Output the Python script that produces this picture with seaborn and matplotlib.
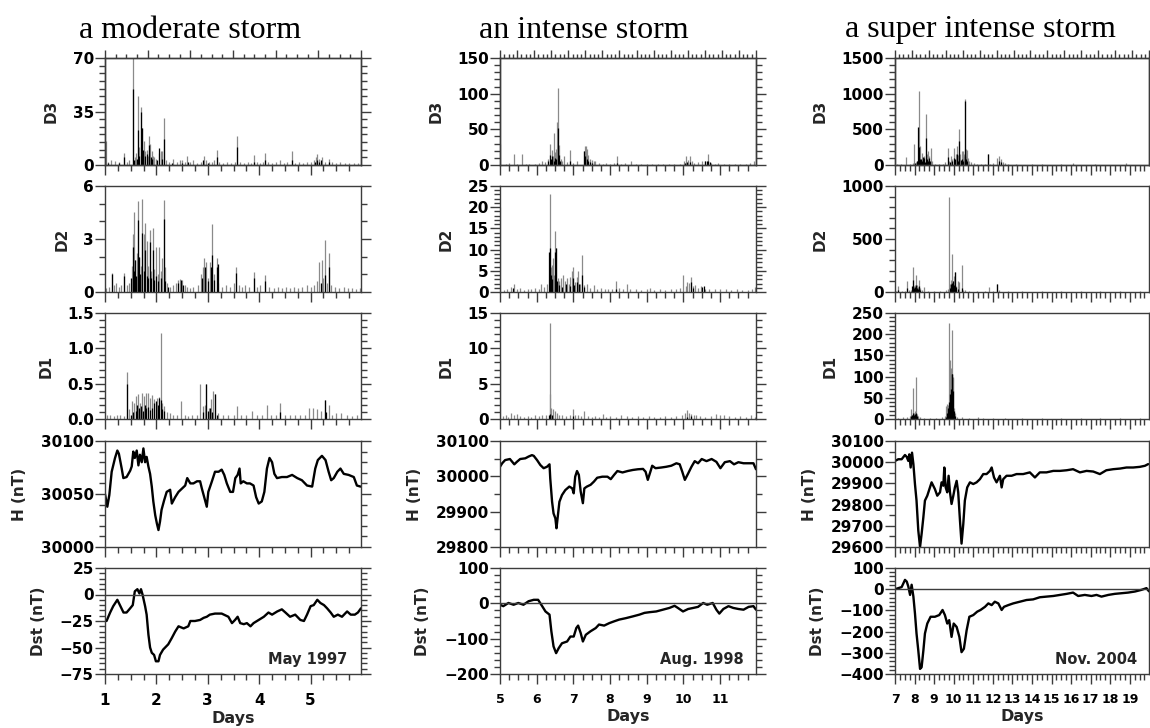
import matplotlib
matplotlib.use("Agg")
import matplotlib.pyplot as plt
from matplotlib.ticker import MultipleLocator
import seaborn as sns

# ---- data (day, value) ----
titles = ["a moderate storm", "an intense storm", "a super intense storm"]
dates = ["May 1997", "Aug. 1998", "Nov. 2004"]
row_labels = ["D3", "D2", "D1", "H (nT)", "Dst (nT)"]

# moderate storm, May 1997
mod_d3_grey = [(1.01,16),(1.06,2),(1.12,3),(1.2,2.5),(1.28,2),(1.36,8),(1.42,2),(1.47,3),(1.55,70),(1.58,5),(1.61,8),(1.64,45),(1.67,12),(1.70,38),(1.72,24),(1.75,16),(1.78,9),(1.81,10),(1.83,6),(1.86,19),(1.88,14),(1.91,9),(1.94,6),(1.96,5),(2.0,4),(2.06,8),(2.09,9),(2.11,9),(2.14,31),(2.18,3),(2.24,2),(2.33,4),(2.4,2),(2.45,3),(2.49,3),(2.55,2),(2.59,6),(2.65,2),(2.72,3),(2.78,1.5),(2.86,2),(2.92,6),(2.96,3),(3.02,2),(3.08,2),(3.12,3),(3.17,10),(3.22,2),(3.3,1.5),(3.38,2),(3.45,1.5),(3.52,2),(3.57,19),(3.62,2),(3.7,1.5),(3.78,2),(3.84,1.5),(3.89,6.5),(3.95,2),(4.02,1.5),(4.08,2),(4.12,8),(4.18,2),(4.25,1.5),(4.33,2),(4.41,3),(4.48,1.5),(4.55,2),(4.64,9),(4.7,1.5),(4.78,2),(4.85,1.5),(4.93,2),(5.0,2),(5.06,3),(5.1,5),(5.13,7),(5.17,4),(5.22,5),(5.28,2),(5.35,4),(5.42,2),(5.5,1.5),(5.58,2),(5.66,1.5),(5.75,1.5),(5.84,1),(5.92,1)]
mod_d3_black = [(1.06,1),(1.28,1),(1.36,5),(1.54,50),(1.57,3),(1.62,4),(1.64,23),(1.66,6),(1.70,35),(1.72,24),(1.74,10),(1.77,6),(1.81,7),(1.86,13),(1.89,5),(1.92,4),(2.02,3),(2.06,11),(2.1,4),(2.14,17),(2.3,1.5),(2.5,1.5),(2.62,2),(2.9,3),(3.0,1),(3.17,5),(3.57,12),(3.9,2),(4.12,3),(4.64,3),(5.08,2),(5.13,3),(5.16,2),(5.2,3),(5.35,2)]
mod_d2_grey = [(1.02,0.2),(1.08,0.3),(1.13,1.05),(1.18,0.4),(1.22,0.5),(1.27,0.3),(1.32,0.4),(1.37,1.1),(1.42,0.4),(1.47,0.5),(1.52,1.5),(1.54,3.3),(1.56,4.55),(1.59,1.8),(1.62,2.2),(1.64,5.15),(1.67,2.0),(1.70,1.5),(1.72,5.24),(1.75,3.3),(1.78,3.9),(1.81,2.9),(1.84,1.5),(1.87,3.5),(1.90,1.2),(1.93,3.65),(1.96,1.3),(2.0,2.55),(2.03,1.0),(2.06,2.55),(2.09,1.2),(2.11,1.9),(2.14,5.2),(2.17,1.4),(2.2,0.5),(2.26,0.3),(2.32,0.4),(2.38,0.5),(2.42,0.66),(2.46,0.75),(2.5,0.7),(2.55,0.4),(2.6,0.3),(2.66,0.2),(2.72,0.3),(2.8,0.4),(2.86,1.0),(2.9,1.4),(2.93,1.9),(2.97,1.7),(3.0,0.8),(3.05,1.7),(3.09,3.84),(3.13,1.0),(3.17,1.9),(3.2,0.5),(3.28,0.3),(3.36,0.4),(3.44,0.3),(3.5,0.5),(3.55,1.4),(3.6,0.4),(3.66,0.3),(3.72,0.4),(3.8,0.3),(3.89,1.14),(3.95,0.3),(4.02,0.4),(4.12,0.95),(4.2,0.3),(4.28,0.2),(4.36,0.3),(4.44,0.2),(4.52,0.3),(4.6,0.2),(4.68,0.3),(4.76,0.2),(4.84,0.3),(4.92,0.4),(5.0,0.3),(5.06,0.4),(5.12,0.6),(5.16,1.7),(5.22,1.8),(5.25,0.8),(5.27,2.93),(5.31,0.5),(5.35,2.18),(5.4,0.4),(5.48,0.3),(5.56,0.2),(5.64,0.3),(5.72,0.2),(5.8,0.2),(5.88,0.15),(5.96,0.2)]
mod_d2_black = [(1.13,1.0),(1.37,0.9),(1.5,0.8),(1.54,2.55),(1.56,1.2),(1.58,1.8),(1.6,0.9),(1.64,4.07),(1.66,2.0),(1.69,1.0),(1.72,3.35),(1.75,1.2),(1.78,2.37),(1.81,0.9),(1.84,0.8),(1.87,2.84),(1.9,0.8),(1.93,2.37),(1.96,0.7),(2.0,0.9),(2.04,0.6),(2.08,0.8),(2.14,4.16),(2.17,0.6),(2.22,0.3),(2.42,0.5),(2.48,0.7),(2.52,0.4),(2.88,0.8),(2.95,1.4),(3.0,0.6),(3.06,1.4),(3.09,2.08),(3.12,0.7),(3.17,1.4),(3.19,1.6),(3.55,1.1),(3.89,0.8),(4.12,0.6),(5.2,0.5),(5.27,0.95),(5.35,1.42)]
mod_d1_grey = [(1.04,0.06),(1.1,0.05),(1.18,0.04),(1.24,0.05),(1.3,0.06),(1.36,0.04),(1.43,0.67),(1.47,0.14),(1.52,0.25),(1.56,0.22),(1.6,0.33),(1.64,0.36),(1.68,0.23),(1.72,0.37),(1.75,0.32),(1.79,0.37),(1.83,0.37),(1.87,0.3),(1.91,0.34),(1.95,0.28),(2.01,0.3),(2.05,0.31),(2.08,1.22),(2.11,0.23),(2.15,0.18),(2.2,0.1),(2.26,0.08),(2.32,0.06),(2.4,0.05),(2.48,0.26),(2.55,0.05),(2.62,0.04),(2.7,0.05),(2.78,0.06),(2.85,0.5),(2.9,0.18),(2.94,0.2),(2.97,0.5),(3.02,0.16),(3.06,0.28),(3.11,0.39),(3.14,0.36),(3.2,0.08),(3.3,0.05),(3.4,0.06),(3.5,0.05),(3.57,0.18),(3.65,0.05),(3.75,0.06),(3.85,0.11),(3.95,0.05),(4.05,0.06),(4.15,0.2),(4.22,0.05),(4.32,0.06),(4.41,0.23),(4.5,0.05),(4.6,0.06),(4.7,0.05),(4.8,0.06),(4.9,0.05),(4.97,0.16),(5.05,0.16),(5.12,0.14),(5.2,0.12),(5.27,0.27),(5.35,0.2),(5.42,0.06),(5.5,0.08),(5.6,0.09),(5.7,0.05),(5.8,0.04),(5.9,0.05)]
mod_d1_black = [(1.43,0.49),(1.5,0.06),(1.55,0.1),(1.6,0.12),(1.63,0.2),(1.66,0.15),(1.7,0.18),(1.73,0.12),(1.77,0.2),(1.8,0.15),(1.84,0.17),(1.88,0.13),(1.92,0.16),(1.96,0.22),(2.0,0.25),(2.03,0.2),(2.06,0.3),(2.08,0.27),(2.1,0.14),(2.14,0.12),(2.9,0.1),(2.97,0.5),(3.0,0.12),(3.04,0.15),(3.08,0.1),(3.14,0.36),(3.18,0.06),(4.41,0.1),(5.27,0.27),(5.3,0.1)]
mod_h = [(1.0,30050),(1.045,30038),(1.084,30049),(1.13,30071),(1.195,30084),(1.24,30091),(1.27,30088),(1.325,30074),(1.357,30065),(1.42,30066),(1.49,30072),(1.52,30076),(1.55,30090),(1.58,30084),(1.617,30091),(1.65,30077),(1.68,30087),(1.715,30080),(1.747,30093),(1.78,30080),(1.81,30085),(1.844,30076),(1.877,30069),(1.91,30057),(1.94,30043),(1.977,30030),(2.01,30022),(2.04,30016),(2.07,30024),(2.1,30035),(2.15,30044),(2.2,30052),(2.267,30054),(2.3,30041),(2.365,30047),(2.43,30052),(2.495,30055),(2.56,30058),(2.6,30065),(2.66,30060),(2.72,30060),(2.79,30062),(2.85,30062),(2.885,30055),(2.93,30047),(2.98,30038),(3.01,30052),(3.08,30062),(3.14,30071),(3.21,30071),(3.27,30073),(3.32,30068),(3.37,30060),(3.436,30052),(3.49,30052),(3.535,30065),(3.58,30068),(3.617,30074),(3.64,30060),(3.69,30062),(3.76,30060),(3.82,30060),(3.89,30058),(3.94,30047),(3.99,30041),(4.05,30043),(4.1,30052),(4.15,30074),(4.2,30084),(4.25,30080),(4.295,30069),(4.346,30065),(4.44,30066),(4.54,30066),(4.64,30068),(4.74,30065),(4.83,30063),(4.93,30058),(5.03,30057),(5.09,30074),(5.14,30082),(5.22,30086),(5.29,30082),(5.35,30071),(5.4,30063),(5.45,30065),(5.52,30071),(5.58,30074),(5.645,30069),(5.74,30068),(5.84,30066),(5.9,30058),(5.97,30057)]
mod_dst = [(1.03,-25),(1.1,-17),(1.16,-11),(1.24,-5),(1.29,-10),(1.36,-17),(1.42,-17),(1.49,-13),(1.54,-10),(1.58,3),(1.63,5),(1.67,1),(1.7,5),(1.73,0),(1.78,-11),(1.81,-19),(1.845,-38),(1.877,-50),(1.91,-55),(1.955,-57),(1.99,-63),(2.04,-63),(2.07,-57),(2.13,-52),(2.23,-47),(2.3,-41),(2.365,-35),(2.43,-30),(2.53,-32),(2.62,-30),(2.66,-25),(2.75,-25),(2.85,-24),(2.92,-22),(2.98,-21),(3.04,-19),(3.14,-18),(3.27,-18),(3.4,-21),(3.47,-27),(3.53,-24),(3.58,-21),(3.63,-27),(3.7,-28),(3.76,-27),(3.83,-30),(3.89,-27),(3.99,-24),(4.09,-21),(4.18,-17),(4.25,-19),(4.35,-16),(4.44,-14),(4.51,-17),(4.6,-21),(4.7,-19),(4.8,-24),(4.87,-25),(4.93,-19),(5.0,-11),(5.06,-10),(5.13,-5),(5.19,-8),(5.26,-10),(5.32,-13),(5.39,-17),(5.45,-21),(5.53,-19),(5.61,-21),(5.71,-16),(5.78,-19),(5.86,-19),(5.92,-17),(5.98,-13)]

# intense storm, Aug. 1998
int_d3_grey = [(5.01,30),(5.15,2),(5.25,3),(5.37,15),(5.45,2),(5.6,16),(5.7,2),(5.8,1.5),(5.95,2),(6.05,3),(6.14,5.6),(6.22,4),(6.3,8),(6.37,30),(6.41,21),(6.44,12),(6.46,45),(6.5,18),(6.53,23),(6.56,60),(6.59,108),(6.62,28),(6.65,9),(6.7,5),(6.75,12),(6.82,4),(6.92,21),(7.0,3),(7.1,5),(7.28,20),(7.32,27),(7.35,26),(7.38,23),(7.41,14),(7.45,9),(7.5,7),(7.55,5),(7.6,5.6),(7.7,3),(7.8,2),(7.9,3),(8.0,2),(8.1,3),(8.2,12),(8.3,2),(8.42,2.5),(8.56,5.6),(8.7,2),(8.85,1.5),(9.0,2),(9.15,1.5),(9.3,2),(9.45,1.5),(9.6,2),(9.75,1.5),(9.9,2),(10.02,6),(10.08,12),(10.13,7),(10.18,13),(10.23,5),(10.3,3),(10.4,4),(10.5,5),(10.6,6),(10.68,16),(10.75,3),(10.85,2),(10.95,3),(11.1,2),(11.25,2),(11.4,1.5),(11.55,2),(11.7,1.5),(11.82,3),(11.92,5)]
int_d3_black = [(6.3,5),(6.37,14),(6.4,9),(6.43,12),(6.46,6),(6.5,10),(6.53,8),(6.58,52),(6.61,14),(6.64,5),(6.92,5),(7.3,19),(7.33,12),(7.36,8),(7.4,6),(7.45,4),(7.5,3),(8.2,3),(10.05,3),(10.1,4),(10.18,4),(10.6,5),(10.64,5),(10.68,5),(10.72,4)]
int_d2_grey = [(5.01,20),(5.1,0.5),(5.2,0.8),(5.3,1.2),(5.37,2),(5.45,0.8),(5.55,1),(5.65,0.5),(5.75,0.7),(5.85,0.6),(5.95,1),(6.05,0.8),(6.12,2),(6.2,1.2),(6.28,2),(6.35,23),(6.38,6),(6.41,6.3),(6.44,8),(6.47,4),(6.5,14.3),(6.53,10.3),(6.57,3.2),(6.62,2.5),(6.66,3.2),(6.72,4),(6.78,2.5),(6.83,3.2),(6.88,2),(6.92,3.6),(6.96,5),(7.0,6),(7.05,2.4),(7.1,3.6),(7.14,5),(7.18,2),(7.24,8.7),(7.3,1.6),(7.38,2),(7.45,1),(7.55,1.6),(7.65,0.8),(7.75,1),(7.85,0.6),(7.95,0.8),(8.05,0.7),(8.16,2.5),(8.25,1),(8.35,0.8),(8.45,2),(8.55,0.6),(8.7,0.8),(8.85,0.5),(9.0,0.6),(9.1,1),(9.2,0.5),(9.35,0.6),(9.5,0.5),(9.65,0.8),(9.8,0.6),(9.9,1),(10.0,4),(10.06,1.5),(10.11,2.4),(10.16,2.2),(10.2,3.6),(10.25,1.4),(10.32,1.7),(10.4,1),(10.48,1.4),(10.58,0.8),(10.7,0.6),(10.85,0.6),(11.0,0.8),(11.15,0.8),(11.3,0.5),(11.45,0.6),(11.6,0.5),(11.75,0.4),(11.88,0.8),(11.96,1.2)]
int_d2_black = [(5.35,1),(6.33,9.5),(6.35,10.3),(6.38,4),(6.42,3),(6.5,9.5),(6.52,10.3),(6.55,2.5),(6.6,1.6),(6.7,1.2),(6.8,2),(6.9,1.5),(6.98,3.2),(7.02,1.6),(7.1,2.4),(7.16,2),(7.24,4),(7.28,1.2),(8.16,0.8),(10.2,2.4),(10.25,1),(10.5,1.2),(10.55,1.4)]
int_d1_grey = [(5.01,8.3),(5.08,0.4),(5.15,0.5),(5.22,0.3),(5.3,0.8),(5.38,0.5),(5.45,0.7),(5.55,0.4),(5.65,0.3),(5.75,0.4),(5.85,0.3),(5.95,0.5),(6.05,0.4),(6.15,0.5),(6.25,0.6),(6.35,13.6),(6.37,3.5),(6.4,1.6),(6.45,1.4),(6.5,1.1),(6.55,0.8),(6.62,0.6),(6.7,0.5),(6.8,0.4),(6.9,0.6),(6.98,1.4),(7.05,0.5),(7.12,0.6),(7.2,0.4),(7.3,1.1),(7.4,0.4),(7.5,0.3),(7.6,0.4),(7.7,0.3),(7.8,0.7),(7.9,0.3),(8.0,0.4),(8.15,0.3),(8.3,0.6),(8.45,0.4),(8.6,0.3),(8.75,0.4),(8.9,0.3),(9.05,0.4),(9.2,0.3),(9.35,0.3),(9.5,0.4),(9.65,0.3),(9.8,0.4),(9.95,0.5),(10.05,0.8),(10.1,1.3),(10.15,0.8),(10.2,0.7),(10.28,0.6),(10.35,0.5),(10.45,0.4),(10.6,0.3),(10.75,0.4),(10.9,0.7),(11.0,0.5),(11.1,0.6),(11.25,0.4),(11.4,0.3),(11.55,0.4),(11.7,0.3),(11.85,0.5),(11.95,0.3)]
int_d1_black = [(6.33,0.6),(6.37,0.7),(6.42,0.5),(6.98,0.4),(10.1,0.3),(10.2,0.4)]
int_h = [(5.0,30027),(5.06,30037),(5.14,30046),(5.27,30049),(5.39,30034),(5.46,30041),(5.55,30049),(5.69,30051),(5.78,30056),(5.87,30060),(5.92,30058),(6.01,30046),(6.1,30032),(6.19,30023),(6.28,30027),(6.35,30034),(6.37,29994),(6.42,29928),(6.46,29895),(6.51,29881),(6.54,29853),(6.575,29886),(6.62,29928),(6.69,29947),(6.78,29961),(6.89,29971),(6.97,29966),(7.01,29952),(7.05,29999),(7.1,30015),(7.15,30004),(7.2,29957),(7.26,29924),(7.3,29966),(7.37,29971),(7.47,29976),(7.56,29985),(7.65,29996),(7.79,29999),(7.93,29999),(8.02,29992),(8.11,30004),(8.2,30015),(8.34,30011),(8.48,30015),(8.62,30018),(8.76,30020),(8.9,30021),(8.97,30013),(9.03,29990),(9.1,30013),(9.15,30030),(9.24,30023),(9.4,30025),(9.53,30027),(9.67,30030),(9.81,30037),(9.9,30034),(9.97,30013),(10.04,29990),(10.13,30008),(10.22,30027),(10.31,30043),(10.4,30037),(10.5,30049),(10.63,30043),(10.77,30049),(10.9,30041),(11.01,30023),(11.13,30040),(11.27,30043),(11.38,30034),(11.5,30040),(11.64,30037),(11.78,30037),(11.91,30037),(11.98,30020)]
int_dst = [(5.0,-4),(5.09,-8),(5.23,1),(5.37,-4),(5.5,1),(5.64,-4),(5.78,6),(5.92,10),(6.04,10),(6.15,-8),(6.24,-23),(6.35,-32),(6.4,-79),(6.46,-122),(6.53,-141),(6.6,-127),(6.69,-113),(6.83,-108),(6.92,-94),(7.01,-94),(7.08,-70),(7.13,-63),(7.2,-84),(7.26,-108),(7.34,-89),(7.47,-79),(7.61,-70),(7.7,-60),(7.84,-63),(7.98,-56),(8.11,-51),(8.25,-46),(8.43,-42),(8.62,-37),(8.8,-32),(8.94,-27),(9.08,-25),(9.26,-23),(9.44,-18),(9.62,-13),(9.76,-7),(9.85,-13),(9.99,-23),(10.13,-16),(10.27,-13),(10.4,-10),(10.54,1),(10.65,-4),(10.8,1),(10.9,-18),(10.98,-29),(11.09,-16),(11.23,-8),(11.36,-13),(11.5,-16),(11.64,-18),(11.78,-10),(11.91,-8),(11.98,-18)]

# super intense storm, Nov. 2004
sup_d3_grey = [(7.1,20),(7.3,15),(7.56,113),(7.75,15),(7.9,30),(7.97,300),(8.05,40),(8.12,60),(8.22,1034),(8.26,268),(8.3,103),(8.36,174),(8.42,100),(8.48,130),(8.58,715),(8.63,150),(8.7,197),(8.76,120),(8.82,235),(8.9,56),(9.05,15),(9.25,12),(9.45,20),(9.55,40),(9.72,235),(9.78,56),(9.85,130),(9.92,90),(10.03,235),(10.1,150),(10.15,268),(10.22,140),(10.29,503),(10.34,150),(10.4,197),(10.47,190),(10.52,150),(10.575,926),(10.62,220),(10.67,207),(10.72,103),(10.8,60),(10.9,40),(11.05,25),(11.2,20),(11.4,15),(11.6,20),(11.77,160),(11.85,20),(12.0,30),(12.22,94),(12.33,127),(12.4,80),(12.5,40),(12.6,23),(12.8,10),(13.2,8),(13.98,15),(14.5,8),(15.0,6),(15.5,8),(16.1,33),(16.6,5),(17.2,8),(17.8,6),(18.4,5),(18.83,28),(19.4,6),(19.8,5)]
sup_d3_black = [(8.0,30),(8.1,60),(8.2,527),(8.25,250),(8.3,80),(8.35,90),(8.4,60),(8.45,110),(8.5,100),(8.55,40),(8.58,385),(8.62,80),(8.68,60),(8.74,100),(8.8,50),(9.72,113),(9.8,40),(9.9,60),(10.0,100),(10.05,80),(10.15,150),(10.2,60),(10.29,338),(10.35,70),(10.4,80),(10.5,60),(10.575,893),(10.6,120),(10.65,90),(10.7,60),(11.77,160),(12.33,60),(12.4,40)]
sup_d2_grey = [(7.05,10),(7.17,54),(7.35,8),(7.5,12),(7.6,107),(7.7,15),(7.8,20),(7.9,233),(7.95,60),(8.0,70),(8.07,158),(8.12,70),(8.18,50),(8.24,117),(8.3,38),(8.4,20),(8.5,44),(8.7,8),(9.0,6),(9.3,10),(9.6,16),(9.7,30),(9.77,900),(9.82,76),(9.87,110),(9.91,360),(9.96,101),(10.02,150),(10.06,190),(10.12,60),(10.2,107),(10.25,90),(10.4,258),(10.45,22),(10.6,15),(10.8,8),(11.2,6),(11.6,10),(11.8,44),(12.0,10),(12.19,76),(12.3,20),(12.8,6),(13.5,5),(14.5,6),(15.5,5),(16.5,6),(17.5,5),(18.5,6),(19.5,5)]
sup_d2_black = [(7.17,20),(7.6,40),(7.88,60),(7.9,117),(7.95,40),(8.0,50),(8.07,70),(8.12,40),(8.2,30),(8.24,60),(8.3,20),(9.8,40),(9.85,80),(9.9,85),(9.95,100),(10.0,70),(10.06,190),(10.1,50),(10.2,30),(10.4,40),(12.19,76)]
sup_d1_grey = [(7.01,27),(7.15,3),(7.4,4),(7.6,5),(7.75,8),(7.8,24),(7.85,10),(7.9,74),(7.95,15),(8.0,18),(8.07,98),(8.12,12),(8.2,8),(8.3,5),(8.5,3),(8.8,2),(9.1,3),(9.4,5),(9.55,8),(9.6,30),(9.64,35),(9.7,33),(9.77,226),(9.8,140),(9.84,120),(9.88,80),(9.91,211),(9.94,100),(9.96,96),(10.0,25),(10.05,15),(10.15,5.5),(10.4,4),(10.8,3),(11.26,5.5),(11.5,3),(12.0,2),(12.6,3),(13.5,2),(14.5,2),(15.5,2),(16.5,2),(17.5,2),(18.5,2),(19.5,2)]
sup_d1_black = [(7.8,8),(7.85,10),(7.9,15),(7.95,10),(8.0,12),(8.07,15),(8.12,8),(9.6,5),(9.65,15),(9.7,25),(9.75,40),(9.8,60),(9.84,41),(9.88,70),(9.91,106),(9.93,106),(9.96,65),(10.0,20),(10.05,8)]
sup_h = [(7.0,30006),(7.17,30014),(7.34,30014),(7.51,30034),(7.6,30025),(7.68,30006),(7.73,30037),(7.8,29975),(7.87,30045),(7.94,29991),(8.02,29897),(8.1,29819),(8.19,29678),(8.28,29600),(8.36,29662),(8.45,29741),(8.53,29819),(8.65,29842),(8.87,29905),(9.04,29873),(9.16,29842),(9.3,29858),(9.38,29905),(9.47,29889),(9.52,29975),(9.59,29881),(9.67,29858),(9.74,29936),(9.81,29858),(9.89,29803),(9.98,29842),(10.06,29881),(10.15,29912),(10.23,29858),(10.32,29725),(10.4,29616),(10.49,29709),(10.57,29819),(10.69,29881),(10.83,29905),(11.0,29897),(11.17,29905),(11.34,29920),(11.51,29944),(11.68,29944),(11.85,29959),(11.94,29975),(12.06,29928),(12.19,29905),(12.36,29936),(12.45,29881),(12.53,29920),(12.7,29936),(12.96,29936),(13.21,29944),(13.55,29944),(13.89,29952),(14.15,29928),(14.4,29952),(14.74,29952),(15.09,29959),(15.43,29959),(15.77,29962),(16.1,29967),(16.45,29952),(16.79,29959),(17.13,29956),(17.47,29944),(17.8,29962),(18.15,29967),(18.5,29970),(18.83,29975),(19.17,29975),(19.51,29978),(19.77,29983),(19.94,29991)]
sup_dst = [(7.0,0),(7.17,5),(7.34,10),(7.51,44),(7.6,36),(7.68,13),(7.77,-27),(7.85,21),(7.94,-35),(8.02,-114),(8.1,-209),(8.19,-289),(8.28,-376),(8.36,-368),(8.45,-289),(8.53,-209),(8.65,-162),(8.82,-130),(9.04,-130),(9.26,-122),(9.43,-98),(9.55,-122),(9.67,-162),(9.77,-146),(9.89,-225),(10.0,-162),(10.15,-178),(10.29,-225),(10.4,-297),(10.52,-281),(10.66,-194),(10.8,-130),(11.0,-122),(11.2,-106),(11.37,-98),(11.6,-83),(11.77,-67),(11.94,-75),(12.1,-59),(12.28,-67),(12.45,-98),(12.57,-83),(12.79,-75),(13.04,-67),(13.38,-59),(13.72,-51),(14.06,-48),(14.4,-38),(14.74,-35),(15.09,-32),(15.43,-27),(15.77,-22),(16.1,-16),(16.36,-32),(16.7,-27),(17.04,-32),(17.3,-27),(17.55,-35),(17.9,-27),(18.23,-22),(18.57,-19),(18.91,-16),(19.26,-11),(19.6,-3),(19.85,5),(19.98,-10)]

day_ranges = [(1, 5.98), (5, 11.98), (7, 19.98)]
y_ranges = [
    [(0, 70, 35, 5), (0, 6, 3, 1), (0, 1.5, 0.5, 0.1), (30000, 30100, 50, 10), (-75, 25, 25, 5)],
    [(0, 150, 50, 10), (0, 25, 5, 1), (0, 15, 5, 1), (29800, 30100, 100, 50), (-200, 100, 100, 20)],
    [(0, 1500, 500, 100), (0, 1000, 500, 100), (0, 250, 50, 10), (29600, 30100, 100, 50), (-400, 100, 100, 20)],
]
spike_sets = [
    [(mod_d3_grey, mod_d3_black), (mod_d2_grey, mod_d2_black), (mod_d1_grey, mod_d1_black)],
    [(int_d3_grey, int_d3_black), (int_d2_grey, int_d2_black), (int_d1_grey, int_d1_black)],
    [(sup_d3_grey, sup_d3_black), (sup_d2_grey, sup_d2_black), (sup_d1_grey, sup_d1_black)],
]
h_sets = [mod_h, int_h, sup_h]
dst_sets = [mod_dst, int_dst, sup_dst]

# ---- layout (pixel boxes of the reference) ----
W, H = 1150, 728
col_px = [(105, 361), (500, 756), (895, 1149)]
row_px = [(58, 165), (186, 292), (313, 419), (441, 547), (568, 674)]
title_x = [190, 584, 980]
top_tick_span = [6, 15, 15]
xtick_size = [11, 9, 9]

sns.set_theme(style="ticks")
plt.rcParams["font.family"] = ["DejaVu Sans"]
plt.rcParams["font.weight"] = "bold"
plt.rcParams["axes.labelweight"] = "bold"
plt.rcParams["axes.edgecolor"] = "#3c3c3c"
plt.rcParams["axes.linewidth"] = 1.0
plt.rcParams["xtick.color"] = "#3c3c3c"
plt.rcParams["ytick.color"] = "#3c3c3c"
plt.rcParams["xtick.labelcolor"] = "black"
plt.rcParams["ytick.labelcolor"] = "black"

fig = plt.figure(figsize=(W / 100, H / 100), dpi=100)


def unpack(pairs):
    return [p[0] for p in pairs], [p[1] for p in pairs]


for c in range(3):
    x0, x1 = col_px[c]
    fig.text(title_x[c] / W, 1 - 30 / H, titles[c], ha="center", va="center",
             family="Liberation Serif", fontweight="normal", fontsize=23, color="black")
    for r in range(5):
        top, bot = row_px[r]
        ax = fig.add_axes([x0 / W, 1 - bot / H, (x1 - x0) / W, (bot - top) / H])
        lo, hi, major, minor = y_ranges[c][r]

        if r < 3:
            grey, black = spike_sets[c][r]
            t, v = unpack(grey)
            ax.vlines(t, 0, v, color="#8a8a8a", lw=0.9)
            t, v = unpack(black)
            ax.vlines(t, 0, v, color="black", lw=0.9)
        else:
            series = h_sets[c] if r == 3 else dst_sets[c]
            t, v = unpack(series)
            sns.lineplot(x=t, y=v, ax=ax, color="black", lw=1.7)
            if r == 4:
                ax.axhline(0, color="#3c3c3c", lw=1.0)

        ax.set_xlim(*day_ranges[c])
        ax.set_ylim(lo, hi)
        ax.yaxis.set_major_locator(MultipleLocator(major))
        ax.yaxis.set_minor_locator(MultipleLocator(minor))
        ax.xaxis.set_major_locator(MultipleLocator(1))
        ax.xaxis.set_minor_locator(MultipleLocator(0.25))
        if r == 2 and c == 0:
            ax.yaxis.set_major_formatter(plt.FormatStrFormatter("%.1f"))
        ax.tick_params(axis="y", which="both", left=True, right=True, labelright=False,
                       direction="out", width=1.0, labelsize=11, pad=1)
        ax.tick_params(axis="y", which="major", length=7)
        ax.tick_params(axis="y", which="minor", length=4)
        ax.tick_params(axis="x", which="both", bottom=True, top=False, direction="out",
                       width=1.0, labelsize=xtick_size[c], pad=7, labelbottom=(r == 4))
        ax.tick_params(axis="x", which="major", length=7)
        ax.tick_params(axis="x", which="minor", length=4)
        ax.set_ylabel(row_labels[r], fontsize=11, labelpad=10)

        if r == 0:
            tw = ax.twiny()
            tw.set_xlim(0, top_tick_span[c])
            tw.xaxis.set_major_locator(MultipleLocator(1))
            tw.xaxis.set_minor_locator(MultipleLocator(0.25))
            tw.tick_params(axis="x", which="both", direction="out", labeltop=False, width=1.0)
            tw.tick_params(axis="x", which="major", length=6)
            tw.tick_params(axis="x", which="minor", length=3)
        if r == 4:
            ax.set_xlabel("Days", fontsize=11.5, labelpad=2)
            ax.text(0.79, 0.14, dates[c], transform=ax.transAxes, ha="center", va="center",
                    fontsize=10.5, fontweight="bold")

fig.savefig("out.png", dpi=100)
